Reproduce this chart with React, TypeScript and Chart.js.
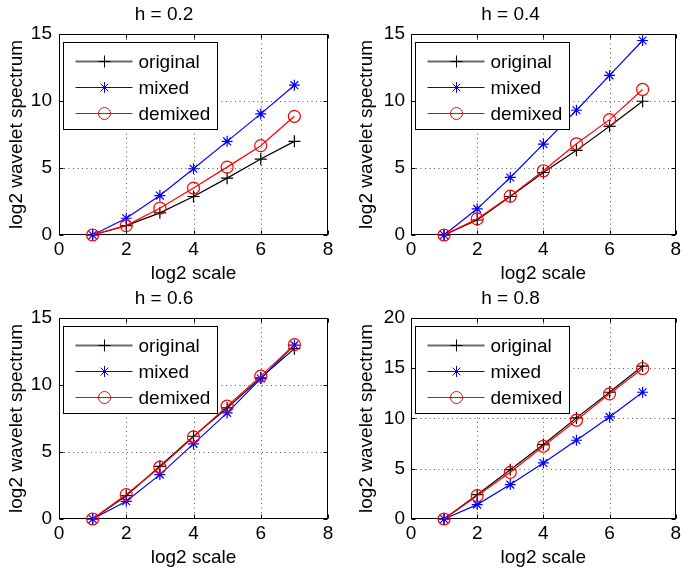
import React, { useEffect, useRef } from "react";
import { Chart, registerables } from "chart.js";
import { drawPoint } from "chart.js/helpers";

Chart.register(...registerables);

// ---- data ----
const logScales = [1, 2, 3, 4, 5, 6, 7];
const seriesNames = ["original", "mixed", "demixed"];
const panelTitles = ["h = 0.2", "h = 0.4", "h = 0.6", "h = 0.8"];
const xTickValues = [0, 2, 4, 6, 8];
const yMaxValues = [15, 15, 15, 20];

const h02Original = [0, 0.7, 1.65, 2.87, 4.24, 5.66, 6.98];
const h02Mixed = [0, 1.25, 2.94, 4.94, 6.98, 9.03, 11.17];
const h02Demixed = [0, 0.7, 2.0, 3.5, 5.06, 6.66, 8.85];

const h04Original = [0, 1.12, 2.87, 4.66, 6.31, 8.1, 9.97];
const h04Mixed = [0, 1.95, 4.29, 6.78, 9.3, 11.9, 14.5];
const h04Demixed = [0, 1.2, 2.9, 4.79, 6.8, 8.6, 10.85];

const h06Original = [0, 1.74, 3.93, 6.17, 8.28, 10.52, 12.7];
const h06Mixed = [0, 1.32, 3.31, 5.6, 7.91, 10.47, 12.96];
const h06Demixed = [0, 1.82, 3.86, 6.12, 8.41, 10.65, 13.0];

const h08Original = [0, 2.42, 4.9, 7.4, 10.05, 12.6, 15.2];
const h08Mixed = [0, 1.43, 3.42, 5.57, 7.83, 10.15, 12.6];
const h08Demixed = [0, 2.32, 4.64, 7.23, 9.82, 12.44, 14.96];

const panelSeries = [
  [h02Original, h02Mixed, h02Demixed],
  [h04Original, h04Mixed, h04Demixed],
  [h06Original, h06Mixed, h06Demixed],
  [h08Original, h08Mixed, h08Demixed],
];

// ---- styles ----
const FONT = "'Liberation Sans', Arial, Helvetica, sans-serif";
const FS = 19;
const seriesStyles = [
  { color: "#000000", legendColor: "#6a6a6a", legendWidth: 2.2, pointStyle: "cross", radius: 6 },
  { color: "#0000ff", legendColor: "#0000ff", legendWidth: 1, pointStyle: "star", radius: 5.5 },
  { color: "#ff0000", legendColor: "#ff0000", legendWidth: 1, pointStyle: "circle", radius: 6 },
];

const framePlugin = {
  id: "matlabFrame",
  beforeDatasetsDraw(chart: any) {
    const { ctx, chartArea: a } = chart;
    const xs = chart.scales.x;
    const ys = chart.scales.y;
    const L = Math.round(a.left) + 0.5;
    const R = Math.round(a.right) - 0.5;
    const T = Math.round(a.top) + 0.5;
    const B = Math.round(a.bottom) - 0.5;
    ctx.save();
    ctx.lineWidth = 1;
    ctx.strokeStyle = "#5a5a5a";
    ctx.setLineDash([1, 3.5]);
    xs.ticks.forEach((t: any) => {
      const px = Math.round(xs.getPixelForValue(t.value)) + 0.5;
      if (px > L + 1 && px < R - 1) {
        ctx.beginPath();
        ctx.moveTo(px, T);
        ctx.lineTo(px, B);
        ctx.stroke();
      }
    });
    ys.ticks.forEach((t: any) => {
      const py = Math.round(ys.getPixelForValue(t.value)) + 0.5;
      if (py > T + 1 && py < B - 1) {
        ctx.beginPath();
        ctx.moveTo(L, py);
        ctx.lineTo(R, py);
        ctx.stroke();
      }
    });
    ctx.setLineDash([]);
    ctx.strokeStyle = "#000";
    ctx.strokeRect(L, T, R - L, B - T);
    const tl = 4;
    ctx.beginPath();
    xs.ticks.forEach((t: any) => {
      const px = Math.round(xs.getPixelForValue(t.value)) + 0.5;
      ctx.moveTo(px, B);
      ctx.lineTo(px, B - tl);
      ctx.moveTo(px, T);
      ctx.lineTo(px, T + tl);
    });
    ys.ticks.forEach((t: any) => {
      const py = Math.round(ys.getPixelForValue(t.value)) + 0.5;
      ctx.moveTo(L, py);
      ctx.lineTo(L + tl, py);
      ctx.moveTo(R, py);
      ctx.lineTo(R - tl, py);
    });
    ctx.stroke();
    ctx.restore();
  },
  afterDraw(chart: any) {
    const { ctx, chartArea: a } = chart;
    const bx = Math.round(a.left) + 4.5;
    const by = Math.round(a.top) + 8.5;
    const bw = 154;
    const bh = 87;
    ctx.save();
    ctx.fillStyle = "#fff";
    ctx.fillRect(bx, by, bw, bh);
    ctx.strokeStyle = "#000";
    ctx.lineWidth = 1;
    ctx.strokeRect(bx, by, bw, bh);
    ctx.font = `${FS}px ${FONT}`;
    ctx.textBaseline = "middle";
    ctx.textAlign = "left";
    chart.data.datasets.forEach((ds: any, i: number) => {
      const st = seriesStyles[i];
      const y = Math.round(by + 18 + i * 26) + 0.5;
      ctx.strokeStyle = st.legendColor;
      ctx.lineWidth = st.legendWidth;
      ctx.beginPath();
      ctx.moveTo(bx + 12, y);
      ctx.lineTo(bx + 69, y);
      ctx.stroke();
      ctx.strokeStyle = st.color;
      ctx.fillStyle = "rgba(0,0,0,0)";
      ctx.lineWidth = 1;
      drawPoint(ctx, { pointStyle: st.pointStyle, radius: st.radius, rotation: 0, borderWidth: 1 } as any, bx + 41, y);
      ctx.fillStyle = "#000";
      ctx.fillText(ds.label, bx + 75, y + 1);
    });
    ctx.restore();
  },
};

type PanelProps = {
  index: number;
  left: number;
  top: number;
  height: number;
  yAxisWidth: number;
  yTitlePad: number;
  yTickPad: number;
  titlePadTop: number;
  titlePadBottom: number;
  padRight: number;
};

function Panel(p: PanelProps) {
  const ref = useRef<HTMLCanvasElement | null>(null);
  useEffect(() => {
    if (!ref.current) return;
    const series = panelSeries[p.index];
    const yMax = yMaxValues[p.index];
    const chart = new Chart(ref.current, {
      type: "line",
      data: {
        datasets: seriesNames.map((name, i) => ({
          label: name,
          data: logScales.map((s, k) => ({ x: s, y: series[i][k] })),
          borderColor: seriesStyles[i].color,
          backgroundColor: "rgba(0,0,0,0)",
          borderWidth: 1.2,
          pointStyle: seriesStyles[i].pointStyle as any,
          pointRadius: seriesStyles[i].radius,
          pointBorderWidth: 1.2,
          pointBorderColor: seriesStyles[i].color,
          pointBackgroundColor: "rgba(0,0,0,0)",
          tension: 0,
          clip: false as any,
          order: 2 - i,
        })),
      },
      options: {
        animation: false,
        responsive: false,
        devicePixelRatio: 1,
        events: [],
        layout: { padding: { left: 0, right: p.padRight, top: 0, bottom: 0 } },
        plugins: {
          legend: { display: false },
          tooltip: { enabled: false },
          title: {
            display: true,
            text: panelTitles[p.index],
            color: "#000",
            font: { family: FONT, size: FS, weight: "normal" as any },
            padding: { top: p.titlePadTop, bottom: p.titlePadBottom },
          },
        },
        scales: {
          x: {
            type: "linear",
            min: 0,
            max: 8,
            afterBuildTicks: (sc: any) => {
              sc.ticks = xTickValues.map((v) => ({ value: v }));
            },
            afterFit: (sc: any) => {
              sc.height = 50;
            },
            grid: { display: false, drawTicks: false },
            border: { display: false },
            ticks: {
              color: "#000",
              font: { family: FONT, size: FS },
              padding: 3,
              maxRotation: 0,
              autoSkip: false,
            },
            title: {
              display: true,
              text: "log2 scale",
              color: "#000",
              font: { family: FONT, size: FS },
              padding: { top: 0, bottom: 0 },
            },
          },
          y: {
            type: "linear",
            min: 0,
            max: yMax,
            ticks: {
              stepSize: 5,
              color: "#000",
              font: { family: FONT, size: FS },
              padding: p.yTickPad,
              autoSkip: false,
            },
            afterFit: (sc: any) => {
              sc.width = p.yAxisWidth;
            },
            grid: { display: false, drawTicks: false },
            border: { display: false },
            title: {
              display: true,
              text: "log2 wavelet spectrum",
              color: "#000",
              font: { family: FONT, size: FS },
              padding: { top: p.yTitlePad, bottom: 0 },
            },
          },
        },
      },
      plugins: [framePlugin],
    } as any);
    return () => chart.destroy();
  }, []);
  return (
    <canvas
      ref={ref}
      width={342}
      height={p.height}
      style={{ position: "absolute", left: p.left, top: p.top, width: 342, height: p.height }}
    />
  );
}

export default function App() {
  return (
    <div style={{ position: "absolute", left: 0, top: 0, width: 684, height: 573, background: "#fff", overflow: "hidden" }}>
      <Panel index={0} left={0} top={0} height={285} yAxisWidth={59} yTitlePad={5} yTickPad={7} titlePadTop={3} titlePadBottom={8} padRight={14} />
      <Panel index={1} left={342} top={0} height={285} yAxisWidth={69} yTitlePad={13} yTickPad={6} titlePadTop={3} titlePadBottom={8} padRight={5} />
      <Panel index={2} left={0} top={283} height={286} yAxisWidth={59} yTitlePad={5} yTickPad={7} titlePadTop={4} titlePadBottom={8} padRight={14} />
      <Panel index={3} left={342} top={283} height={286} yAxisWidth={69} yTitlePad={13} yTickPad={6} titlePadTop={4} titlePadBottom={8} padRight={5} />
    </div>
  );
}
